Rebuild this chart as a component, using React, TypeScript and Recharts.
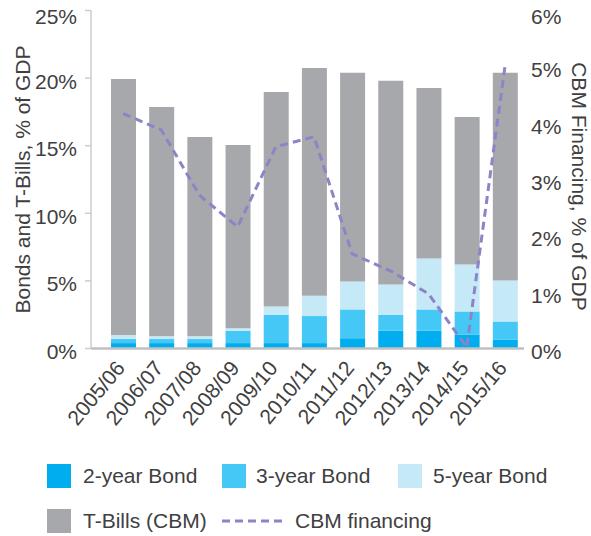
import React from 'react';
import { ComposedChart, Bar, Line, XAxis, YAxis, Legend, Label } from 'recharts';

const categories = ['2005/06', '2006/07', '2007/08', '2008/09', '2009/10', '2010/11', '2011/12', '2012/13', '2013/14', '2014/15', '2015/16'];
const bond2 = [0.4, 0.4, 0.4, 0.4, 0.4, 0.4, 0.76, 1.33, 1.33, 1.04, 0.67];
const bond3 = [0.3, 0.3, 0.3, 0.9, 2.1, 2.0, 2.13, 1.17, 1.56, 1.7, 1.33];
const bond5 = [0.3, 0.2, 0.2, 0.2, 0.6, 1.5, 2.07, 2.24, 3.77, 3.48, 3.03];
const tbills = [18.93, 16.96, 14.74, 13.55, 15.87, 16.85, 15.44, 15.06, 12.61, 10.9, 15.37];
const cbm = [4.17, 3.88, 2.72, 2.16, 3.58, 3.76, 1.68, 1.38, 0.97, 0.02, 5.0];
const leftTicks = [0, 5, 10, 15, 20, 25];
const rightTicks = [0, 1, 2, 3, 4, 5, 6];

const data = categories.map((c, i) => ({
  cat: c,
  b2: bond2[i],
  b3: bond3[i],
  b5: bond5[i],
  tb: tbills[i],
  cbm: cbm[i],
}));

const FONT = '"Liberation Sans", Arial, sans-serif';
const TXT = '#404040';
const C2 = '#00aeef';
const C3 = '#45c8f5';
const C5 = '#c6e9f8';
const CT = '#a7a8ac';
const CL = '#8c84c6';

const XTick = (props: any) => {
  const { x, y, payload } = props;
  const ax = x + 3;
  const ay = y + 20;
  return (
    <text x={ax} y={ay} transform={`rotate(-50 ${ax} ${ay})`} textAnchor="end" fontSize={21} fontFamily={FONT} fill={TXT}>
      {payload.value}
    </text>
  );
};

const makeYTick = (maxVal: number) => (props: any) => {
  const { x, y, payload, textAnchor } = props;
  const off = payload.value === maxVal ? 6 : 3;
  return (
    <text x={x} y={y + off} dy="0.355em" textAnchor={textAnchor} fontSize={21} fontFamily={FONT} fill={TXT}>
      {`${payload.value}%`}
    </text>
  );
};
const LeftTick = makeYTick(25);
const RightTick = makeYTick(6);

const LegendContent = () => {
  const sq = (left: number, top: number, color: string) => (
    <div style={{ position: 'absolute', left, top, width: 24, height: 24, background: color }} />
  );
  const txt = (left: number, top: number, s: string) => (
    <div style={{ position: 'absolute', left, top, fontSize: 21, lineHeight: '24px', fontFamily: FONT, color: TXT, whiteSpace: 'nowrap' }}>{s}</div>
  );
  return (
    <div style={{ position: 'relative', width: 591, height: 98 }}>
      {sq(47, 26, C2)}
      {txt(83, 26, '2-year Bond')}
      {sq(222, 26, C3)}
      {txt(256, 26, '3-year Bond')}
      {sq(398, 26, C5)}
      {txt(433, 26, '5-year Bond')}
      {sq(47, 71, CT)}
      {txt(83, 71, 'T-Bills (CBM)')}
      <svg style={{ position: 'absolute', left: 222, top: 80 }} width={66} height={6}>
        <line x1={0} y1={3} x2={64} y2={3} stroke={CL} strokeWidth={3} strokeDasharray="8 5" />
      </svg>
      {txt(295, 71, 'CBM financing')}
    </div>
  );
};

export default function App() {
  return (
    <div style={{ position: 'absolute', left: 0, top: 0 }}>
      <ComposedChart width={591} height={536} data={data} margin={{ top: 10.5, right: 0, bottom: 0, left: 0 }}>
        <XAxis
          dataKey="cat"
          height={89.5}
          padding={{ left: 13, right: 0 }}
          tickLine={false}
          tickSize={0}
          tickMargin={0}
          axisLine={{ stroke: '#c0c0c0', strokeWidth: 2.5 }}
          tick={<XTick />}
          interval={0}
        />
        <YAxis
          yAxisId="left"
          orientation="left"
          width={91}
          domain={[0, 25]}
          ticks={leftTicks}
          axisLine={{ stroke: '#cccccc', strokeWidth: 1.5 }}
          tickLine={{ stroke: '#cccccc', strokeWidth: 1.5 }}
          tickSize={6}
          tickMargin={8}
          tick={<LeftTick />}
        >
          <Label value="Bonds and T-Bills, % of GDP" angle={-90} position="center" dx={-22.5} style={{ fontSize: 21, fontFamily: FONT, fill: TXT }} />
        </YAxis>
        <YAxis
          yAxisId="right"
          orientation="right"
          width={67}
          domain={[0, 6]}
          ticks={rightTicks}
          axisLine={false}
          tickLine={false}
          tickSize={0}
          tickMargin={7}
          tick={<RightTick />}
        >
          <Label value="CBM Financing, % of GDP" angle={90} position="center" dx={21.5} dy={7} style={{ fontSize: 21, fontFamily: FONT, fill: TXT }} />
        </YAxis>
        <Legend verticalAlign="bottom" content={<LegendContent />} />
        <Bar yAxisId="left" dataKey="b2" name="2-year Bond" stackId="a" fill={C2} barSize={25} isAnimationActive={false} />
        <Bar yAxisId="left" dataKey="b3" name="3-year Bond" stackId="a" fill={C3} barSize={25} isAnimationActive={false} />
        <Bar yAxisId="left" dataKey="b5" name="5-year Bond" stackId="a" fill={C5} barSize={25} isAnimationActive={false} />
        <Bar yAxisId="left" dataKey="tb" name="T-Bills (CBM)" stackId="a" fill={CT} barSize={25} isAnimationActive={false} />
        <Line yAxisId="right" dataKey="cbm" name="CBM financing" type="linear" stroke={CL} strokeWidth={3} strokeDasharray="8 5" dot={false} activeDot={false} isAnimationActive={false} />
      </ComposedChart>
    </div>
  );
}
